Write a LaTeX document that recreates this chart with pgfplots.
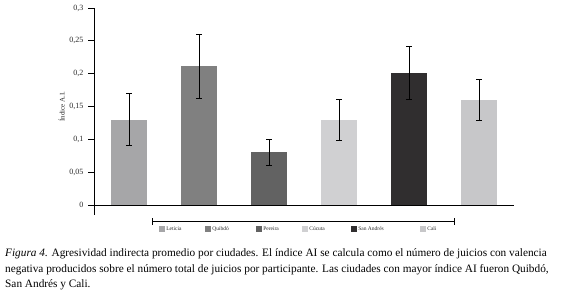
\documentclass[border=0pt]{standalone}
\usepackage{fontspec}
\setmainfont{Liberation Serif}
\usepackage{pgfplots}
\pgfplotsset{compat=1.18}
\definecolor{cLet}{RGB}{166,166,168}
\definecolor{cQui}{RGB}{128,128,128}
\definecolor{cPer}{RGB}{98,98,98}
\definecolor{cCuc}{RGB}{208,208,210}
\definecolor{cSan}{RGB}{48,46,47}
\definecolor{cCal}{RGB}{199,199,201}
\definecolor{txt}{RGB}{40,40,40}
\begin{document}
\begin{tikzpicture}[x=1pt,y=1pt]
\useasboundingbox (0,0) rectangle (565,299);
\begin{axis}[
  at={(94pt,94pt)}, anchor=south west,
  scale only axis, width=420pt, height=197pt,
  xmin=-0.5, xmax=5.5, ymin=0, ymax=0.3,
  axis lines=left, axis line style={-, black, line width=0.7pt},
  xtick=\empty,
  ytick={0,0.05,0.1,0.15,0.2,0.25,0.3},
  yticklabels={0,{0,05},{0,1},{0,15},{0,2},{0,25},{0,3}},
  tick align=outside, major tick length=6pt,
  ytick style={black, line width=0.7pt},
  yticklabel style={font=\fontsize{8}{9}\selectfont, text=txt, xshift=-1pt},
  ylabel={Índice A.I.},
  ylabel style={font=\fontsize{7}{8}\selectfont, text=txt},
  ylabel shift=-2pt,
  /pgf/number format/assume math mode=true,
  ybar, bar width=36pt, bar shift=0pt,
  every axis plot/.append style={draw=none},
  error bars/y dir=both, error bars/y explicit,
  error bars/error bar style={black, line width=0.9pt},
  error bars/error mark options={rotate=90, mark size=2.6pt, line width=0.9pt, black},
  legend columns=6,
  legend style={at={(0.148,-0.122)}, anchor=west, draw=none, fill=none,
     font=\fontsize{5.5}{6}\selectfont, text=txt,
     /tikz/every even column/.append style={column sep=0pt},
     nodes={inner sep=1pt}},
  legend image code/.code={\path[#1,draw=none] (0pt,-2.7pt) rectangle (6pt,2.7pt);},
  clip=false,
]
\addplot[fill=cLet] coordinates {(0,0.13) +- (0,0.04)};
\addlegendentry{\makebox[38pt][l]{Leticia}}
\addplot[fill=cQui] coordinates {(1,0.211) +- (0,0.049)};
\addlegendentry{\makebox[43pt][l]{Quibdó}}
\addplot[fill=cPer] coordinates {(2,0.08) +- (0,0.02)};
\addlegendentry{\makebox[38pt][l]{Pereira}}
\addplot[fill=cCuc] coordinates {(3,0.13) +- (0,0.031)};
\addlegendentry{\makebox[41pt][l]{Cúcuta}}
\addplot[fill=cSan] coordinates {(4,0.201) +- (0,0.041)};
\addlegendentry{\makebox[61pt][l]{San Andrés}}
\addplot[fill=cCal] coordinates {(5,0.16) +- (0,0.031)};
\addlegendentry{Cali}
\end{axis}
\draw[black, line width=0.7pt] (94,94) -- (94,84);
\draw[black, line width=0.8pt] (152,77.3) -- (454,77.3);
\draw[black, line width=0.8pt] (152,74) -- (152,81);
\draw[black, line width=0.8pt] (454,74) -- (454,81);
\node[anchor=north west, inner sep=0pt, align=left, font=\fontsize{11.3}{15.5}\selectfont, text=black] at (5,50.5) {%
\textit{Figura 4.} Agresividad indirecta promedio por ciudades. El índice AI se calcula como el número de juicios con valencia\\
negativa producidos sobre el número total de juicios por participante. Las ciudades con mayor índice AI fueron Quibdó,\\
San Andrés y Cali.};
\end{tikzpicture}
\end{document}
